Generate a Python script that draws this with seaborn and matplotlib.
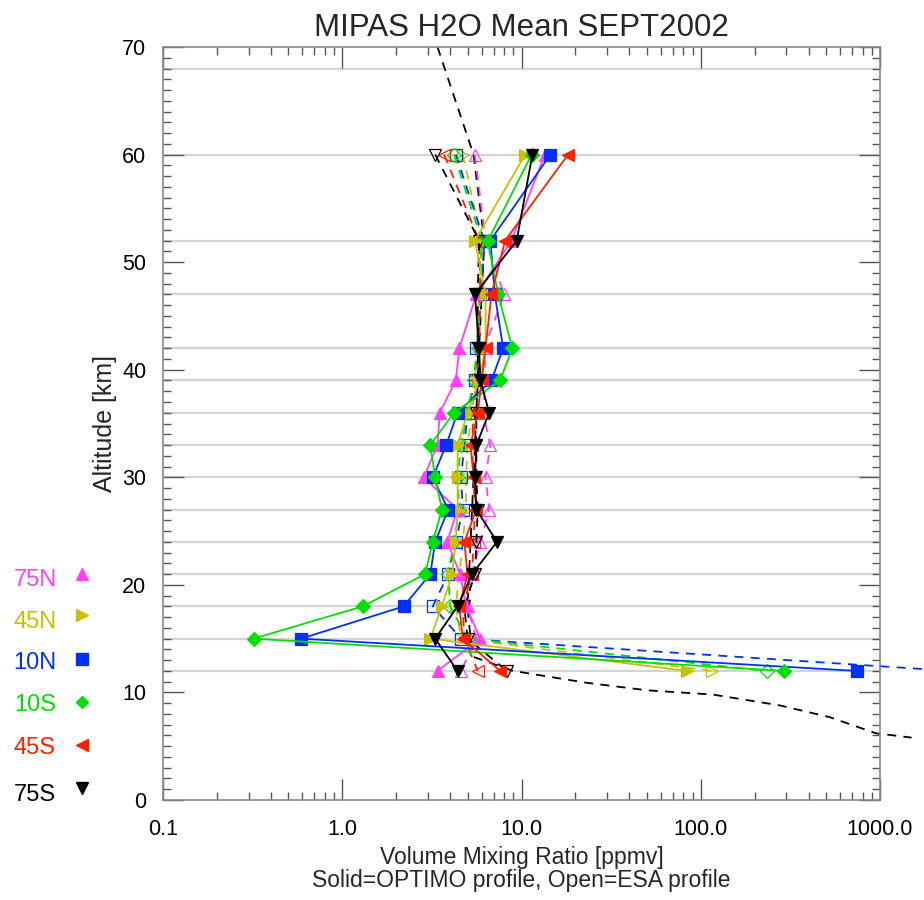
import numpy as np
import pandas as pd
import matplotlib
matplotlib.use("Agg")
import matplotlib.pyplot as plt
import seaborn as sns
from matplotlib.lines import Line2D
from matplotlib.ticker import FixedLocator, MultipleLocator, NullFormatter, LogLocator

# ---------------- data ----------------
altitudes = [60, 52, 47, 42, 39, 36, 33, 30, 27, 24, 21, 18, 15, 12]

regions = ["75N", "45N", "10N", "10S", "45S", "75S"]
region_colors = ["#ff40ff", "#c8c000", "#0030ff", "#00e000", "#ff2000", "#000000"]
region_markers = ["^", ">", "s", "D", "<", "v"]

# OPTIMO profiles (solid lines, filled markers), ppmv
optimo_75N = [13.5, 8.8, 5.6, 4.5, 4.3, 3.5, 3.4, 2.85, 4.4, 3.85, 4.55, 4.9, 5.9, 3.4]
optimo_45N = [10.5, 5.5, 6.3, 6.3, 5.8, 5.0, 4.4, 4.4, 4.4, 4.3, 4.1, 3.6, 3.1, 84.0]
optimo_10N = [14.5, 6.7, 7.1, 7.9, 6.8, 4.4, 3.8, 3.2, 3.9, 3.3, 3.1, 2.2, 0.59, 740.0]
optimo_10S = [11.4, 6.5, 7.4, 8.9, 7.6, 4.2, 3.1, 3.3, 3.6, 3.2, 2.9, 1.3, 0.32, 290.0]
optimo_45S = [18.2, 8.1, 6.8, 6.3, 6.0, 5.7, 5.2, 5.4, 5.6, 4.8, 5.0, 4.5, 4.7, 7.6]
optimo_75S = [11.5, 9.4, 5.5, 5.8, 5.9, 6.6, 5.6, 5.5, 5.6, 7.3, 5.3, 4.4, 3.3, 4.4]

# ESA profiles (dashed lines, open markers), ppmv
esa_75N = [5.5, 6.3, 8.0, 6.2, 6.3, 6.1, 6.7, 6.3, 6.6, 5.9, 5.3, 5.0, 5.6, 4.6]
esa_45N = [4.7, 6.0, 5.8, 5.6, 5.5, 5.3, 5.0, 4.9, 4.9, 4.7, 4.5, 4.3, 4.6, 115.0]
esa_10N = [4.3, 6.2, 6.0, 5.6, 5.5, 5.0, 4.8, 4.6, 4.7, 4.3, 3.9, 3.2, 4.6, 2500.0]
esa_10S = [4.2, 6.0, 5.9, 5.7, 5.4, 5.0, 4.6, 4.4, 4.5, 4.2, 3.9, 4.0, 5.0, 233.0]
esa_45S = [3.7, 5.8, 5.9, 5.8, 5.6, 5.4, 5.3, 5.4, 5.5, 5.4, 5.3, 4.7, 4.8, 5.7]
esa_75S = [3.3, 5.8, 5.7, 5.7, 5.7, 5.6, 5.6, 5.6, 5.7, 5.6, 5.5, 4.8, 5.0, 8.3]

# reference (climatological) profile, black dashed
clim_alt = [70, 60, 52, 47, 42, 36, 30, 24, 18, 15, 13.3, 12, 10.9, 10.2, 9.8, 8.8, 7.7, 6.2, 5.8]
clim_vmr = [3.4, 5.4, 6.2, 6.0, 5.8, 5.6, 5.4, 5.2, 5.0, 5.2, 5.4, 9.0, 23, 50, 117, 275, 524, 950, 1500]

grid_altitudes = [12, 15, 18, 21, 24, 27, 30, 33, 36, 39, 42, 47, 52, 60, 68]

x_ticks = [0.1, 1.0, 10.0, 100.0, 1000.0]
x_tick_labels = ["0.1", "1.0", "10.0", "100.0", "1000.0"]
y_ticks = [0, 10, 20, 30, 40, 50, 60, 70]

optimo = [optimo_75N, optimo_45N, optimo_10N, optimo_10S, optimo_45S, optimo_75S]
esa = [esa_75N, esa_45N, esa_10N, esa_10S, esa_45S, esa_75S]

rows = []
for r, o, e in zip(regions, optimo, esa):
    for a, v in zip(altitudes, o):
        rows.append(dict(region=r, source="OPTIMO", alt=a, vmr=v))
    for a, v in zip(altitudes, e):
        rows.append(dict(region=r, source="ESA", alt=a, vmr=v))
df = pd.DataFrame(rows)
clim = pd.DataFrame(dict(alt=clim_alt, vmr=clim_vmr))

# ---------------- figure ----------------
sns.set_theme(style="white")
plt.rcParams["font.family"] = ["Liberation Sans", "DejaVu Sans"]

W, H = 924, 900
fig = plt.figure(figsize=(W / 100, H / 100), dpi=100)
ax_l, ax_r, ax_t, ax_b = 163, 880, 47, 800
ax = fig.add_axes([ax_l / W, 1 - ax_b / H, (ax_r - ax_l) / W, (ax_b - ax_t) / H])
ax.set_facecolor("white")

for g in grid_altitudes:
    ax.axhline(g, color="#d4d4d4", lw=1.6, zorder=0)

dash = (0, (5, 4))
# climatology
sns.lineplot(data=clim, x="vmr", y="alt", sort=False, estimator=None, orient="y",
             color="black", linewidth=1.3, linestyle=dash, ax=ax, clip_on=False, zorder=2)

for r, c, m in zip(regions, region_colors, region_markers):
    ms = 7 if m == "D" else 9
    sub_e = df[(df.region == r) & (df.source == "ESA")]
    sns.lineplot(data=sub_e, x="vmr", y="alt", sort=False, estimator=None, orient="y",
                 color=c, linewidth=1.3, linestyle=dash, marker=m, markersize=ms,
                 markerfacecolor="none", markeredgecolor=c, markeredgewidth=0.9,
                 ax=ax, clip_on=False, zorder=3)
for r, c, m in zip(regions, region_colors, region_markers):
    ms = 7 if m == "D" else 9
    sub_o = df[(df.region == r) & (df.source == "OPTIMO")]
    sns.lineplot(data=sub_o, x="vmr", y="alt", sort=False, estimator=None, orient="y",
                 color=c, linewidth=1.3, marker=m, markersize=ms,
                 markerfacecolor=c, markeredgecolor=c, markeredgewidth=0.9,
                 ax=ax, clip_on=False, zorder=4)

ax.set_xscale("log")
ax.set_xlim(0.1, 1000)
ax.set_ylim(0, 70)
ax.xaxis.set_major_locator(FixedLocator(x_ticks))
ax.set_xticklabels(x_tick_labels)
ax.xaxis.set_minor_locator(LogLocator(base=10, subs=np.arange(2, 10), numticks=20))
ax.xaxis.set_minor_formatter(NullFormatter())
ax.yaxis.set_major_locator(FixedLocator(y_ticks))
ax.yaxis.set_minor_locator(MultipleLocator(1))
ax.tick_params(which="both", direction="in", top=True, right=True, bottom=True, left=True,
               colors="#555555", labelcolor="black", labelsize=15.5, width=1)
ax.tick_params(which="major", length=15)
ax.tick_params(axis="x", which="major", pad=14)
ax.tick_params(axis="y", which="major", pad=12)
ax.tick_params(which="minor", length=6)
for s in ax.spines.values():
    s.set_color("#888888")
    s.set_linewidth(1.2)

ax.set_xlabel("Volume Mixing Ratio [ppmv]\nSolid=OPTIMO profile, Open=ESA profile",
              fontsize=16.5, linespacing=1.0, labelpad=4)
ax.set_ylabel("Altitude [km]", fontsize=18, labelpad=4)
ax.set_title("MIPAS H2O Mean SEPT2002", fontsize=22.5, pad=8)

# region key on the left
key_y = [580, 622, 663, 705, 748, 795]
mark_y = [574, 615, 659, 702, 745, 788]
for r, c, m, yy, my in zip(regions, region_colors, region_markers, key_y, mark_y):
    fig.text(35 / W, 1 - yy / H, r, color=c, fontsize=17, ha="center", va="center")
    fig.add_artist(Line2D([82 / W], [1 - my / H], transform=fig.transFigure,
                          marker=m, color=c, markersize=8 if m != "D" else 6,
                          linestyle="none"))

fig.savefig("out.png", dpi=100)
